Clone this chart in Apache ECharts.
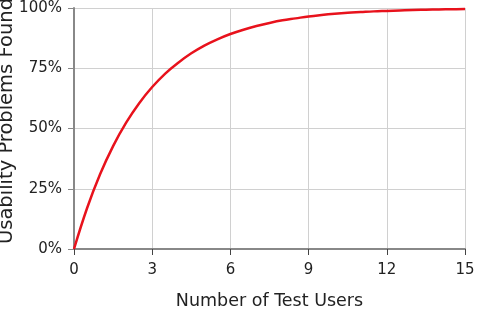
<!DOCTYPE html>
<html><head><meta charset="utf-8">
<script src="https://cdn.jsdelivr.net/npm/echarts@6/dist/echarts.min.js"></script>
<style>html,body{margin:0;padding:0;background:#fff}#c{width:484px;height:314px}</style>
</head><body><div id="c"></div>
<script>
const users = [0, 0.5, 1, 1.5, 2, 2.5, 3, 3.5, 4, 4.5, 5, 5.5, 6, 6.5, 7, 7.5, 8, 8.5, 9, 9.5, 10, 10.5, 11, 11.5, 12, 12.5, 13, 13.5, 14, 14.5, 15];
const found = [0, 0.169, 0.31, 0.427, 0.524, 0.605, 0.672, 0.728, 0.773, 0.812, 0.844, 0.870, 0.892, 0.910, 0.925, 0.938, 0.949, 0.957, 0.965, 0.971, 0.976, 0.980, 0.983, 0.986, 0.988, 0.990, 0.992, 0.993, 0.994, 0.995, 0.996];
const xTitle = 'Number of Test Users';
const yTitle = 'Usability Problems Found';
const font = 'DejaVu Sans';
const chart = echarts.init(document.getElementById('c'));
chart.setOption({
  animation: false,
  grid: {left: 74, right: 19, top: 8, bottom: 65, outerBoundsMode: 'none', containLabel: false},
  graphic: [{
    type: 'text', x: 7, y: 121, rotation: Math.PI / 2,
    style: {text: yTitle, font: '19.5px "DejaVu Sans"', fill: '#222', textAlign: 'center', textVerticalAlign: 'middle'}
  }],
  xAxis: {
    type: 'value', min: 0, max: 15, interval: 3,
    name: xTitle, nameLocation: 'middle', nameGap: 43,
    nameTextStyle: {fontFamily: font, fontSize: 17.5, color: '#222'},
    axisLine: {show: true, lineStyle: {color: '#888', width: 2}},
    axisTick: {show: true, length: 6, lineStyle: {color: '#444'}},
    axisLabel: {fontFamily: font, fontSize: 15, color: '#222', margin: 14},
    splitLine: {show: true, lineStyle: {color: '#d0d0d0'}}
  },
  yAxis: {
    type: 'value', min: 0, max: 1, interval: 0.25,
    axisLine: {show: true, lineStyle: {color: '#888', width: 2}},
    axisTick: {show: true, length: 6, lineStyle: {color: '#888'}},
    axisLabel: {fontFamily: font, fontSize: 15, color: '#222', margin: 12,
      formatter: v => Math.round(v * 100) + '%'},
    splitLine: {show: true, lineStyle: {color: '#d0d0d0'}}
  },
  series: [{
    type: 'line', smooth: 0.4, showSymbol: false,
    data: users.map((u, i) => [u, found[i]]),
    lineStyle: {color: '#e8121c', width: 2.5}
  }]
});
</script></body></html>
